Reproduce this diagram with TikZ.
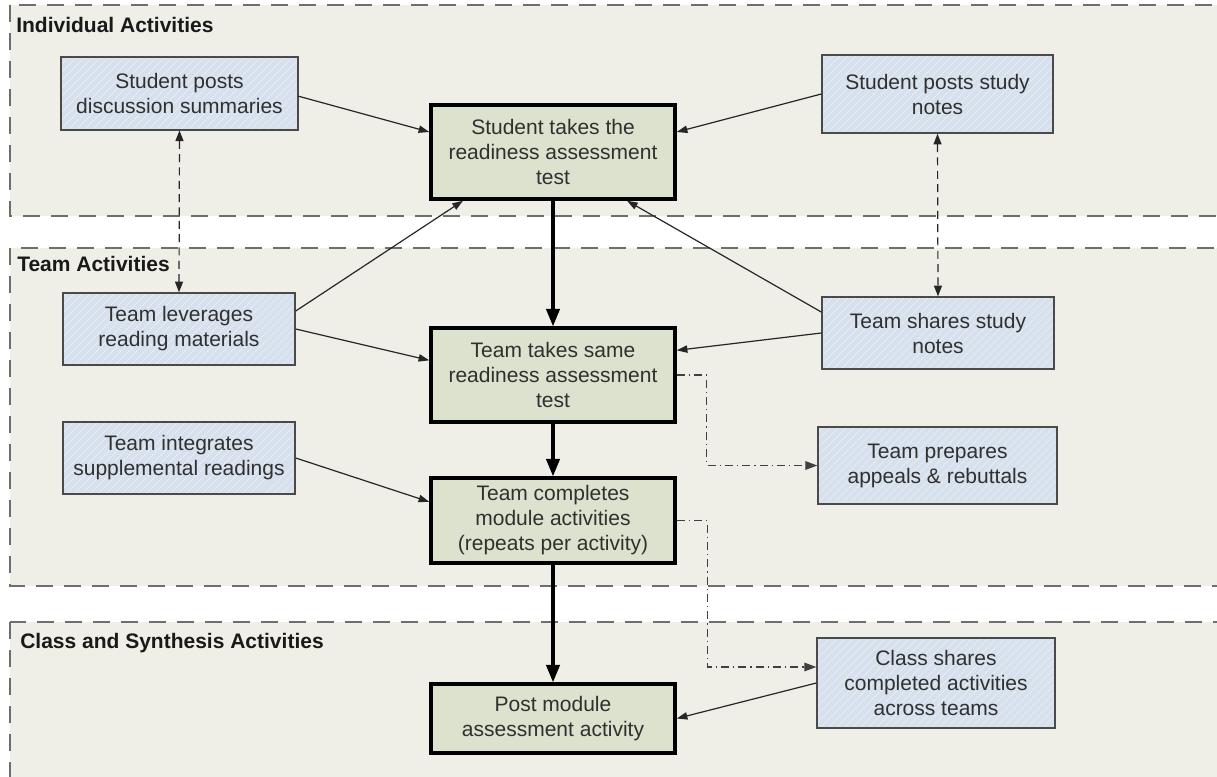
\documentclass[tikz,border=0pt]{standalone}
\usepackage{fontspec}
\setmainfont{Liberation Sans}
\usetikzlibrary{arrows.meta,patterns.meta}
\definecolor{bandfill}{HTML}{EFEFE8}
\definecolor{bandline}{HTML}{6E6E6E}
\definecolor{bluefill}{HTML}{D7E0ED}
\definecolor{bluestripe}{HTML}{EAEFF6}
\definecolor{boxborder}{HTML}{4A4A4A}
\definecolor{greenfill}{HTML}{DCE2CE}
\definecolor{txtcol}{HTML}{303030}
\newcommand\dgboxfont{\fontsize{15.75}{18.75}\selectfont}
\begin{document}
\begin{tikzpicture}[x=0.75pt,y=-0.75pt,
  band/.style={fill=bandfill, draw=bandline, line width=1.4pt, dash pattern=on 13pt off 8pt},
  bandtitle/.style={anchor=west, inner sep=0pt, font=\dgboxfont\bfseries, text=black!90},
  bluebox/.style={draw=boxborder, line width=1.1pt, preaction={fill=bluefill},
    pattern={Lines[angle=45,distance=4pt,line width=0.6pt]}, pattern color=bluestripe,
    inner sep=0pt, align=center, text=txtcol, font=\dgboxfont},
  greenbox/.style={draw=black, line width=2.6pt, fill=greenfill,
    inner sep=0pt, align=center, text=txtcol, font=\dgboxfont},
  thinarrow/.style={draw=black!85, line width=0.9pt, -{Triangle[length=8pt,width=5.5pt]}},
  thickarrow/.style={draw=black, line width=2.3pt, -{Triangle[length=13pt,width=10pt]}},
  linkarrow/.style={draw=black!85, line width=0.9pt, dash pattern=on 6pt off 4pt,
    {Triangle[length=8pt,width=6pt]}-{Triangle[length=8pt,width=6pt]}},
  dotarrow/.style={draw=black!75, line width=0.8pt, dash pattern=on 6pt off 3pt on 1pt off 3pt,
    -{Triangle[length=9pt,width=6.5pt]}}
]
\clip (0,0) rectangle (1217,776);
\fill[white] (0,0) rectangle (1217,776);

% bands
\draw[band] (10,5) rectangle (1240,216);
\draw[band] (10,248) rectangle (1240,586);
\draw[band] (10,622) rectangle (1240,800);

\node[bandtitle] (t1) at (16,25) {Individual Activities};
\node[bandtitle] (t2) at (17,264) {Team Activities};
\node[bandtitle] (t3) at (20,643) {Class and Synthesis Activities};

% boxes
\node[bluebox, minimum width=177.75pt, minimum height=54.75pt] (spds) at (179.5,93.5) {Student posts\\discussion summaries};
\node[bluebox, minimum width=173.25pt, minimum height=58.5pt] (spsn) at (937.5,94) {Student posts study\\notes};
\node[greenbox, minimum width=183pt, minimum height=70.5pt] (stra) at (553,152) {Student takes the\\readiness assessment\\test};
\node[bluebox, minimum width=174pt, minimum height=54pt] (tlrm) at (179,329) {Team leverages\\reading materials};
\node[greenbox, minimum width=183pt, minimum height=70.5pt] (ttsr) at (553,375) {Team takes same\\readiness assessment\\test};
\node[bluebox, minimum width=174pt, minimum height=54pt] (tssn) at (938,333) {Team shares study\\notes};
\node[bluebox, minimum width=174pt, minimum height=54pt] (tisr) at (179,458) {Team integrates\\supplemental readings};
\node[bluebox, minimum width=179.25pt, minimum height=57.75pt] (tpar) at (937.5,465.5) {Team prepares\\appeals \& rebuttals};
\node[greenbox, minimum width=183pt, minimum height=63.75pt] (tcma) at (553,520.5) {Team completes\\module activities\\(repeats per activity)};
\node[bluebox, minimum width=178.5pt, minimum height=67.5pt] (csca) at (936,683) {Class shares\\completed activities\\across teams};
\node[greenbox, minimum width=183pt, minimum height=51.75pt] (pmaa) at (553,718.5) {Post module\\assessment activity};

% connectors
\draw[thinarrow] ([yshift=-2pt]spds.east) -- ([yshift=15pt]stra.west);
\draw[thinarrow] (spsn.west) -- ([yshift=15pt]stra.east);
\draw[thickarrow] (stra.south) -- (ttsr.north);
\draw[thinarrow] ([yshift=13.5pt]tlrm.east) -- ([xshift=-67.5pt]stra.south);
\draw[thinarrow] (tlrm.east) -- ([yshift=11pt]ttsr.west);
\draw[thinarrow] ([yshift=15.75pt]tssn.west) -- ([xshift=55.5pt]stra.south);
\draw[thinarrow] (tssn.west) -- ([yshift=18.5pt]ttsr.east);
\draw[thickarrow] (ttsr.south) -- (tcma.north);
\draw[thinarrow] (tisr.east) -- ([yshift=14pt]tcma.west);
\draw[thickarrow] (tcma.south) -- (pmaa.north);
\draw[thinarrow] (csca.west) -- (pmaa.east);
\draw[linkarrow] (spds.south) -- (tlrm.north);
\draw[linkarrow] (spsn.south) -- (tssn.north);
\draw[dotarrow] (ttsr.east) -- ++(22.5pt,0) |- (tpar.west);
\draw[dotarrow] (tcma.east) -- ++(23pt,0) |- ([yshift=12pt]csca.west);
\end{tikzpicture}
\end{document}
